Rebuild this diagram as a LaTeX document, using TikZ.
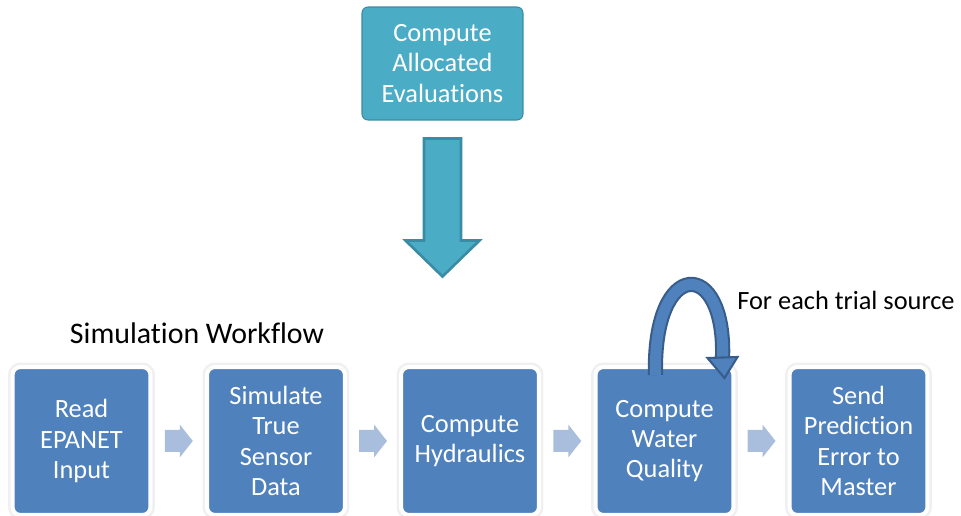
\documentclass[tikz,border=0pt]{standalone}
\usepackage{fontspec}
\setmainfont{Carlito}[Ligatures=NoCommon]
\usetikzlibrary{calc}

\definecolor{stepblue}{HTML}{4F81BD}
\definecolor{stepedge}{HTML}{385D8A}
\definecolor{topteal}{HTML}{4BACC6}
\definecolor{tealedge}{HTML}{3A8CA4}
\definecolor{flowgrey}{HTML}{A9BDDD}

\tikzset{
    stepbox/.style={rounded corners=0.16cm, fill=stepblue, text=white, align=center,
        minimum width=2.76cm, minimum height=2.96cm, inner sep=0pt,
        font=\fontsize{15}{17.2}\selectfont,
        preaction={draw=black!6, line width=0.18cm}, draw=white, line width=0.08cm},
    topbox/.style={rounded corners=0.12cm, fill=topteal, draw=tealedge, line width=0.6pt,
        text=white, align=center, minimum width=3.22cm, minimum height=2.26cm, inner sep=0pt,
        font=\fontsize{15}{17.6}\selectfont},
    caption/.style={font=\fontsize{15}{18}\selectfont, inner sep=0pt}
}

\begin{document}
\begin{tikzpicture}[x=0.02cm, y=-0.02cm]
    \useasboundingbox (0,0) rectangle (961,516);

    % top box and the big arrow down to the workflow
    \node[topbox] (alloc) at (442.5,63.5) {Compute\\Allocated\\Evaluations};
    \coordinate (drop) at ($(alloc.south)+(0,156)$);
    \filldraw[fill=topteal, draw=tealedge, line width=1.5pt]
        ($(alloc.south)+(-18.5,18)$) -- ($(alloc.south)+(18.5,18)$) -- ($(alloc.south)+(18.5,120)$)
        -- ($(alloc.south)+(37,120)$) -- (drop) -- ($(alloc.south)+(-37,120)$)
        -- ($(alloc.south)+(-18.5,120)$) -- cycle;

    % workflow row
    \node[caption, font=\fontsize{17}{20}\selectfont] (title) at (197,333) {Simulation Workflow};
    \node[stepbox] (read)  at (81.5,441)  {Read\\EPANET\\Input};
    \node[stepbox] (truth) at (276,441)   {Simulate\\True\\Sensor\\Data};
    \node[stepbox] (hydro) at (470,441)   {Compute\\Hydraulics};
    \node[stepbox] (water) at (664.5,441) {Compute\\Water\\Quality};
    \node[stepbox] (send)  at (858.5,441) {Send\\Prediction\\Error to\\Master};

    % small arrows between the steps
    \coordinate (m1) at ($(read.east)!0.5!(truth.west)$);
    \coordinate (m2) at ($(truth.east)!0.5!(hydro.west)$);
    \coordinate (m3) at ($(hydro.east)!0.5!(water.west)$);
    \coordinate (m4) at ($(water.east)!0.5!(send.west)$);
    \fill[flowgrey] (m1) ++(-14,-11) -- ++(15,0) -- ++(0,-5.5) -- ++(13,16.5) -- ++(-13,16.5) -- ++(0,-5.5) -- ++(-15,0) -- cycle;
    \fill[flowgrey] (m2) ++(-14,-11) -- ++(15,0) -- ++(0,-5.5) -- ++(13,16.5) -- ++(-13,16.5) -- ++(0,-5.5) -- ++(-15,0) -- cycle;
    \fill[flowgrey] (m3) ++(-14,-11) -- ++(15,0) -- ++(0,-5.5) -- ++(13,16.5) -- ++(-13,16.5) -- ++(0,-5.5) -- ++(-15,0) -- cycle;
    \fill[flowgrey] (m4) ++(-14,-11) -- ++(15,0) -- ++(0,-5.5) -- ++(13,16.5) -- ++(-13,16.5) -- ++(0,-5.5) -- ++(-15,0) -- cycle;

    % loop over trial sources
    \coordinate (loopout) at ($(water.north)+(-9,10)$);
    \coordinate (loopin) at ($(water.north)+(58,-6)$);
    \draw[stepedge, line width=1.2pt, double=stepblue, double distance=0.22cm]
        (loopout) .. controls ($(loopout)+(-3,-118)$) and ($(loopin)+(4,-102)$) .. (loopin);
    \filldraw[fill=stepblue, draw=stepedge, line width=1.2pt]
        ($(loopin)+(-15,-1)$) -- ($(loopin)+(15,-2)$) -- ($(water.north)+(60,13)$) -- cycle;
    \node[caption, anchor=west] (trial) at (737,300) {For each trial source};
\end{tikzpicture}
\end{document}
